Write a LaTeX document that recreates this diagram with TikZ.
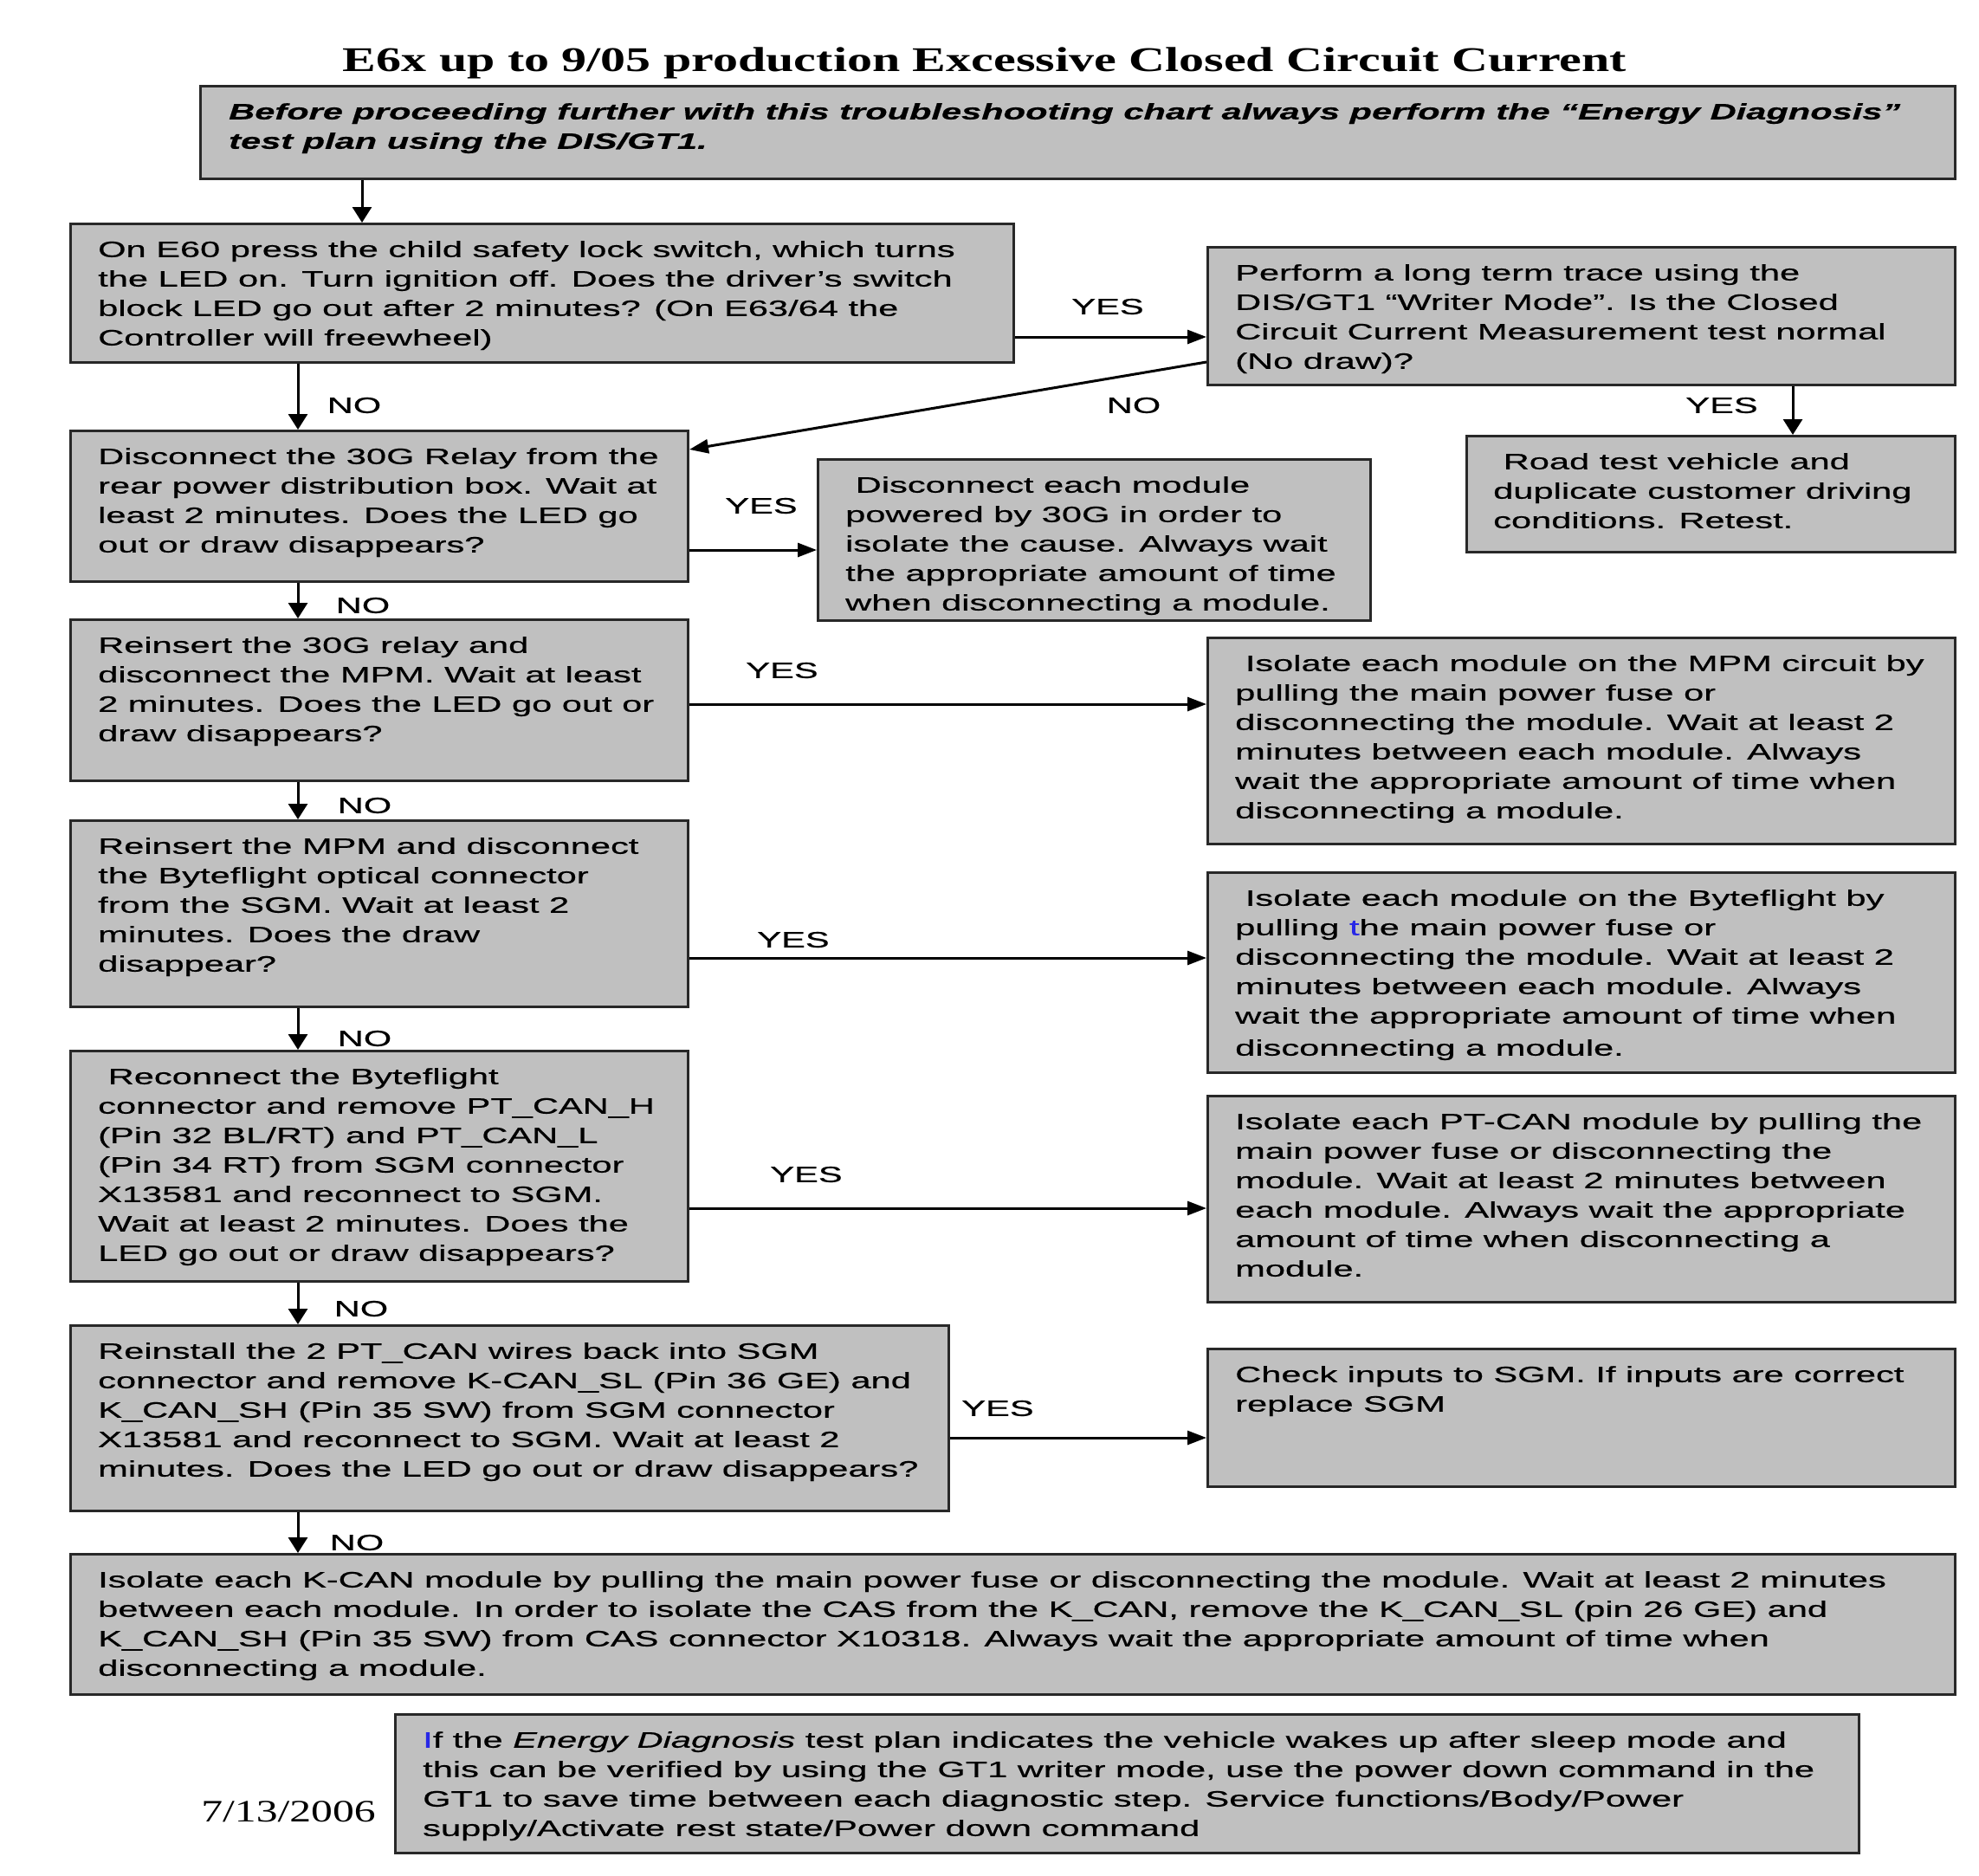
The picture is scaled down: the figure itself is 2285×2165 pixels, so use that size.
\documentclass[tikz,border=0pt]{standalone}
\usepackage{fontspec}
\setmainfont{Liberation Sans}[FakeStretch=1.625,FakeBold=0.6]
\newfontfamily\titlefont{Liberation Serif}[FakeStretch=1.45]
\newfontfamily\datefont{Liberation Serif}[FakeStretch=1.38]
\usetikzlibrary{arrows.meta,calc}
\definecolor{boxfill}{RGB}{192,192,192}
\definecolor{boxline}{RGB}{40,40,40}
\definecolor{markblue}{RGB}{40,40,230}
\tikzset{
  box/.style={draw=boxline,fill=boxfill,line width=3pt,inner sep=0pt,anchor=north west},
  txt/.style={anchor=north west,align=left,inner sep=0pt,font=\fontsize{25.6}{34}\selectfont},
  lbl/.style={inner sep=0pt,font=\fontsize{25.6}{34}\selectfont},
  noline/.style={line width=3pt,-{Triangle[length=18pt,width=22pt]}},
  yesline/.style={line width=3pt,-{Triangle[length=22pt,width=16pt]}}
}
\begin{document}
\begin{tikzpicture}[x=1pt,y=-1pt]
\useasboundingbox (0,0) rectangle (2285,2165);
\node[anchor=base,inner sep=0pt,font=\titlefont\bfseries\fontsize{40}{48}\selectfont] (title) at (1137,83)
  {E6x up to 9/05 production Excessive Closed Circuit Current};
% boxes, left column and right column
\node[box,minimum width=2026pt,minimum height=107pt] (top) at (230,98) {};
\node[box,minimum width=1089pt,minimum height=160pt] (b1) at (80,257) {};
\node[box,minimum width=863pt,minimum height=159pt] (perf) at (1393,284) {};
\node[box,minimum width=564pt,minimum height=134pt] (road) at (1692,502) {};
\node[box,minimum width=713pt,minimum height=174pt] (relay) at (80,496) {};
\node[box,minimum width=638pt,minimum height=186pt] (disc) at (943,529) {};
\node[box,minimum width=713pt,minimum height=186pt] (mpm) at (80,714) {};
\node[box,minimum width=863pt,minimum height=238pt] (mpmiso) at (1393,735) {};
\node[box,minimum width=713pt,minimum height=215pt] (byte) at (80,946) {};
\node[box,minimum width=863pt,minimum height=231pt] (byteiso) at (1393,1006) {};
\node[box,minimum width=713pt,minimum height=266pt] (ptcan) at (80,1212) {};
\node[box,minimum width=863pt,minimum height=238pt] (ptiso) at (1393,1264) {};
\node[box,minimum width=1014pt,minimum height=214pt] (kcan) at (80,1529) {};
\node[box,minimum width=863pt,minimum height=159pt] (sgm) at (1393,1556) {};
\node[box,minimum width=2176pt,minimum height=162pt] (kiso) at (80,1793) {};
\node[box,minimum width=1690pt,minimum height=160pt] (note) at (455,1978) {};
% texts
\node[txt,font=\fontsize{25.6}{34}\selectfont\bfseries\itshape] (toptxt) at ([shift={(34,21)}]top.north west)
  {Before proceeding further with this troubleshooting chart always perform the “Energy Diagnosis”\\
   test plan using the DIS/GT1.};
\node[txt] (b1txt) at ([shift={(33,21)}]b1.north west)
  {On E60 press the child safety lock switch, which turns\\
   the LED on. Turn ignition off. Does the driver’s switch\\
   block LED go out after 2 minutes? (On E63/64 the\\
   Controller will freewheel)};
\node[txt] (perftxt) at ([shift={(33,21)}]perf.north west)
  {Perform a long term trace using the\\
   DIS/GT1 “Writer Mode”. Is the Closed\\
   Circuit Current Measurement test normal\\
   (No draw)?};
\node[txt] (roadtxt) at ([shift={(32,21)}]road.north west)
  {~Road test vehicle and\\
   duplicate customer driving\\
   conditions. Retest.};
\node[txt] (relaytxt) at ([shift={(33,21)}]relay.north west)
  {Disconnect the 30G Relay from the\\
   rear power distribution box. Wait at\\
   least 2 minutes. Does the LED go\\
   out or draw disappears?};
\node[txt] (disctxt) at ([shift={(33,21)}]disc.north west)
  {~Disconnect each module\\
   powered by 30G in order to\\
   isolate the cause. Always wait\\
   the appropriate amount of time\\
   when disconnecting a module.};
\node[txt] (mpmtxt) at ([shift={(33,21)}]mpm.north west)
  {Reinsert the 30G relay and\\
   disconnect the MPM. Wait at least\\
   2 minutes. Does the LED go out or\\
   draw disappears?};
\node[txt] (mpmisotxt) at ([shift={(33,21)}]mpmiso.north west)
  {~Isolate each module on the MPM circuit by\\
   pulling the main power fuse or\\
   disconnecting the module. Wait at least 2\\
   minutes between each module. Always\\
   wait the appropriate amount of time when\\
   disconnecting a module.};
\node[txt] (bytetxt) at ([shift={(33,21)}]byte.north west)
  {Reinsert the MPM and disconnect\\
   the Byteflight optical connector\\
   from the SGM. Wait at least 2\\
   minutes. Does the draw\\
   disappear?};
\node[txt] (byteisotxt) at ([shift={(33,21)}]byteiso.north west)
  {~Isolate each module on the Byteflight by\\
   pulling {\color{markblue}t}he main power fuse or\\
   disconnecting the module. Wait at least 2\\
   minutes between each module. Always\\
   wait the appropriate amount of time when\\[3pt]
   disconnecting a module.};
\node[txt] (ptcantxt) at ([shift={(33,21)}]ptcan.north west)
  {~Reconnect the Byteflight\\
   connector and remove PT\_CAN\_H\\
   (Pin 32 BL/RT) and PT\_CAN\_L\\
   (Pin 34 RT) from SGM connector\\
   X13581 and reconnect to SGM.\\
   Wait at least 2 minutes. Does the\\
   LED go out or draw disappears?};
\node[txt] (ptisotxt) at ([shift={(33,21)}]ptiso.north west)
  {Isolate each PT-CAN module by pulling the\\
   main power fuse or disconnecting the\\
   module. Wait at least 2 minutes between\\
   each module. Always wait the appropriate\\
   amount of time when disconnecting a\\
   module.};
\node[txt] (kcantxt) at ([shift={(33,21)}]kcan.north west)
  {Reinstall the 2 PT\_CAN wires back into SGM\\
   connector and remove K-CAN\_SL (Pin 36 GE) and\\
   K\_CAN\_SH (Pin 35 SW) from SGM connector\\
   X13581 and reconnect to SGM. Wait at least 2\\
   minutes. Does the LED go out or draw disappears?};
\node[txt] (sgmtxt) at ([shift={(33,21)}]sgm.north west)
  {Check inputs to SGM. If inputs are correct\\
   replace SGM};
\node[txt] (kisotxt) at ([shift={(33,21)}]kiso.north west)
  {Isolate each K-CAN module by pulling the main power fuse or disconnecting the module. Wait at least 2 minutes\\
   between each module. In order to isolate the CAS from the K\_CAN, remove the K\_CAN\_SL (pin 26 GE) and\\
   K\_CAN\_SH (Pin 35 SW) from CAS connector X10318. Always wait the appropriate amount of time when\\
   disconnecting a module.};
\node[txt] (notetxt) at ([shift={(33,21)}]note.north west)
  {{\color{markblue}I}f the \textit{Energy Diagnosis} test plan indicates the vehicle wakes up after sleep mode and\\
   this can be verified by using the GT1 writer mode, use the power down command in the\\
   GT1 to save time between each diagnostic step. Service functions/Body/Power\\
   supply/Activate rest state/Power down command};
\node[anchor=base,inner sep=0pt,font=\datefont\fontsize{36}{40}\selectfont] (date) at (333,2103) {7/13/2006};
% connectors
\coordinate (xa) at (418,0);
\coordinate (xb) at (344,0);
\coordinate (xc) at (2070,0);
\coordinate (ya) at (0,389);
\coordinate (yb) at (0,635);
\coordinate (yc) at (0,813);
\coordinate (yd) at (0,1106);
\coordinate (ye) at (0,1395);
\coordinate (yf) at (0,1660);
\coordinate (yg) at (0,418);
\coordinate (yh) at (0,519);
\draw[noline] (top.south -| xa) -- (b1.north -| xa);
\draw[noline] (b1.south -| xb) -- (relay.north -| xb);
\draw[noline] (relay.south -| xb) -- (mpm.north -| xb);
\draw[noline] (mpm.south -| xb) -- (byte.north -| xb);
\draw[noline] (byte.south -| xb) -- (ptcan.north -| xb);
\draw[noline] (ptcan.south -| xb) -- (kcan.north -| xb);
\draw[noline] (kcan.south -| xb) -- (kiso.north -| xb);
\draw[noline] (perf.south -| xc) -- (road.north -| xc);
\draw[yesline] (b1.east |- ya) -- (perf.west |- ya);
\draw[yesline] (perf.west |- yg) -- (relay.east |- yh);
\draw[yesline] (relay.east |- yb) -- (disc.west |- yb);
\draw[yesline] (mpm.east |- yc) -- (mpmiso.west |- yc);
\draw[yesline] (byte.east |- yd) -- (byteiso.west |- yd);
\draw[yesline] (ptcan.east |- ye) -- (ptiso.west |- ye);
\draw[yesline] (kcan.east |- yf) -- (sgm.west |- yf);
% YES / NO
\node[lbl] (no1) at (409,468) {NO};
\node[lbl] (yes1) at (1279,354) {YES};
\node[lbl] (no2) at (1309,468) {NO};
\node[lbl] (yes2) at (1988,468) {YES};
\node[lbl] (yes3) at (879,584) {YES};
\node[lbl] (no3) at (419,699) {NO};
\node[lbl] (yes4) at (903,774) {YES};
\node[lbl] (no4) at (421,930) {NO};
\node[lbl] (yes5) at (916,1085) {YES};
\node[lbl] (no5) at (421,1199) {NO};
\node[lbl] (yes6) at (931,1356) {YES};
\node[lbl] (no6) at (417,1511) {NO};
\node[lbl] (yes7) at (1152,1626) {YES};
\node[lbl] (no7) at (412,1781) {NO};
\end{tikzpicture}
\end{document}
